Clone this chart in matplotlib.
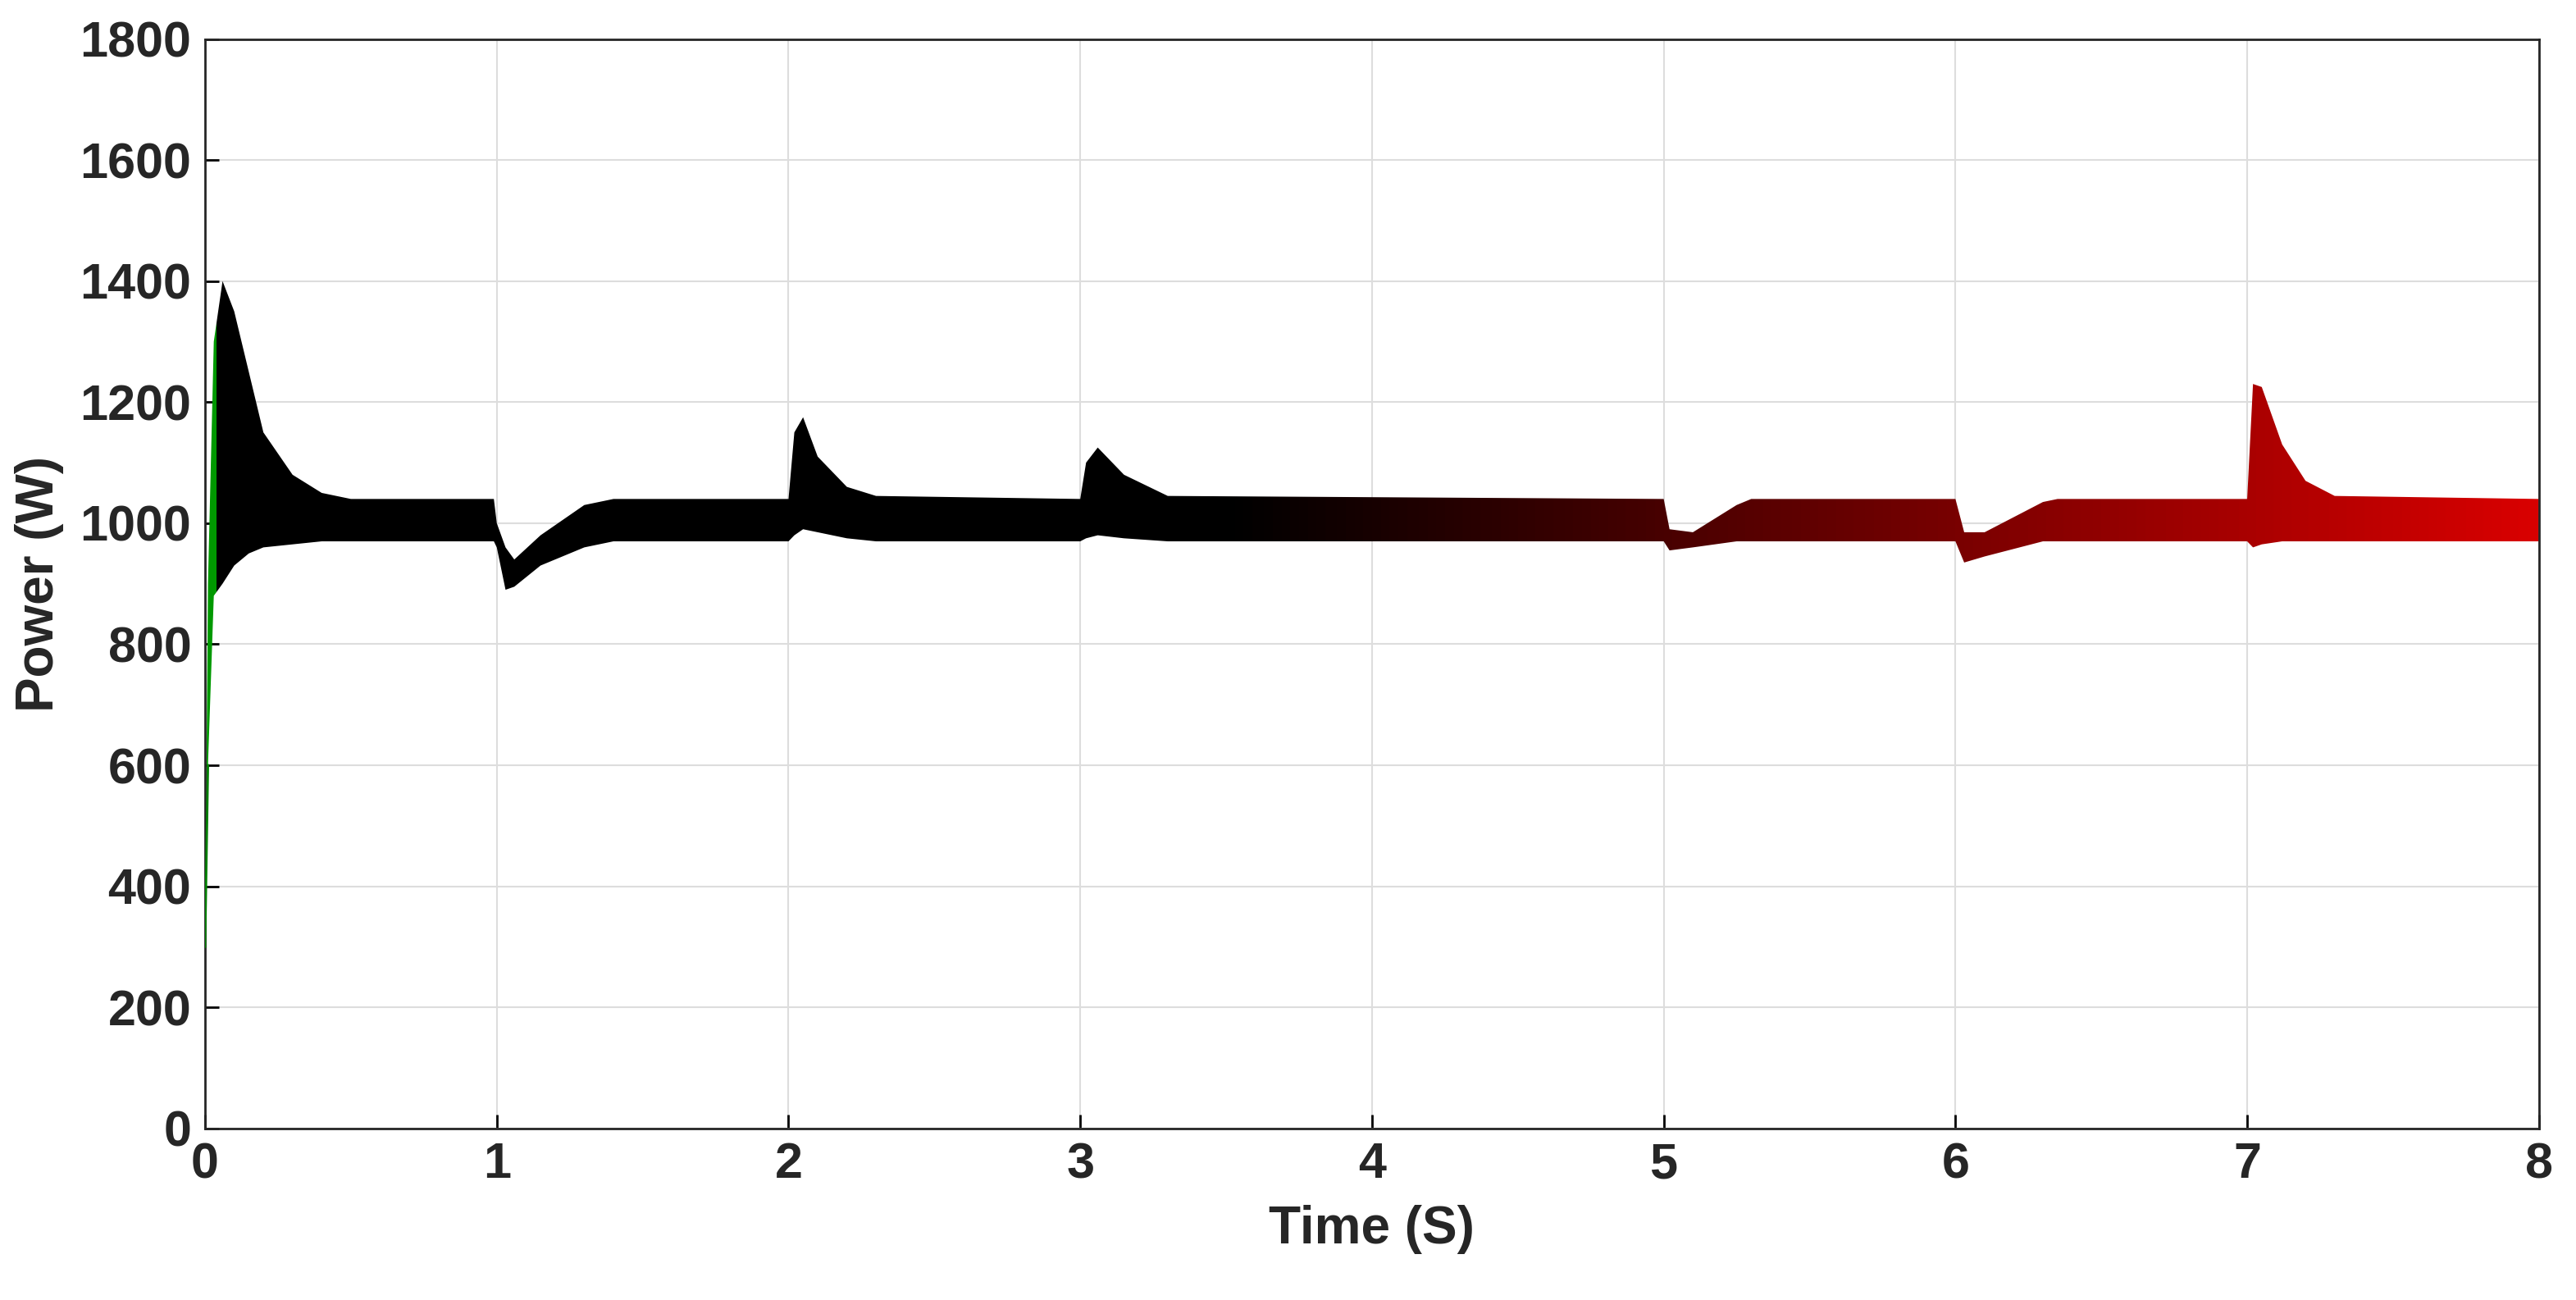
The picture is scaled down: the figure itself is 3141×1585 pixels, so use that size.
import matplotlib.pyplot as plt
import numpy as np
from matplotlib.colors import LinearSegmentedColormap

# envelope of the power ripple (time s, lower W, upper W)
t = [0, 0.01, 0.03, 0.06, 0.1, 0.15, 0.2, 0.3, 0.4, 0.5, 0.99,
     1.0, 1.03, 1.06, 1.15, 1.3, 1.4, 2.0, 2.02, 2.05, 2.1, 2.2, 2.3,
     3.0, 3.02, 3.06, 3.15, 3.3, 5.0, 5.02, 5.1, 5.25, 5.3,
     6.0, 6.03, 6.1, 6.3, 6.35, 7.0, 7.02, 7.05, 7.12, 7.2, 7.3, 8.0]
p_low = [300, 600, 880, 900, 930, 950, 960, 965, 970, 970, 970,
         960, 890, 895, 930, 960, 970, 970, 980, 990, 985, 975, 970,
         970, 975, 980, 975, 970, 970, 955, 960, 970, 970,
         970, 935, 945, 970, 970, 970, 960, 965, 970, 970, 970, 970]
p_high = [300, 900, 1300, 1400, 1350, 1250, 1150, 1080, 1050, 1040, 1040,
          1000, 960, 940, 980, 1030, 1040, 1040, 1150, 1175, 1110, 1060, 1045,
          1040, 1100, 1125, 1080, 1045, 1040, 990, 985, 1030, 1040,
          1040, 985, 985, 1035, 1040, 1040, 1230, 1225, 1130, 1070, 1045, 1040]

plt.rcParams['font.family'] = ['Liberation Sans', 'DejaVu Sans']
fig = plt.figure(figsize=(31.41, 15.85), dpi=100)
ax = fig.add_axes([0.0796, 0.132, 0.906, 0.838])

poly = ax.fill_between(t, p_low, p_high, color='none', lw=0)
# colour runs green -> black -> red along time, like the original trace
cmap = LinearSegmentedColormap.from_list('trace', [
    (0, (0, 0.6, 0)), (0.003, (0, 0, 0)), (0.44, (0, 0, 0)), (1, (0.85, 0, 0))])
img = ax.imshow(np.linspace(0, 1, 800)[None, :], cmap=cmap, aspect='auto',
                extent=[0, 8, 0, 1800], zorder=2)
img.set_clip_path(poly.get_paths()[0], transform=ax.transData)
ax.plot(t[:2], p_low[:2], color='green', lw=2, zorder=3)

ax.set_xlim(0, 8)
ax.set_ylim(0, 1800)
ax.set_xticks(range(0, 9))
ax.set_yticks(range(0, 1801, 200))
ax.grid(True, color='#dddddd', lw=1.5)
ax.set_axisbelow(True)
ax.tick_params(labelsize=44, width=2, length=12, direction='in', pad=12)
for lab in ax.get_xticklabels() + ax.get_yticklabels():
    lab.set_fontweight('bold')
    lab.set_color('#262626')
for s in ax.spines.values():
    s.set_linewidth(2)
    s.set_color('#262626')
ax.set_xlabel('Time (S)', fontsize=46, fontweight='bold', color='#262626', labelpad=14)
ax.set_ylabel('Power (W)', fontsize=46, fontweight='bold', color='#262626', labelpad=14)
fig.savefig('out.png', dpi=100)
